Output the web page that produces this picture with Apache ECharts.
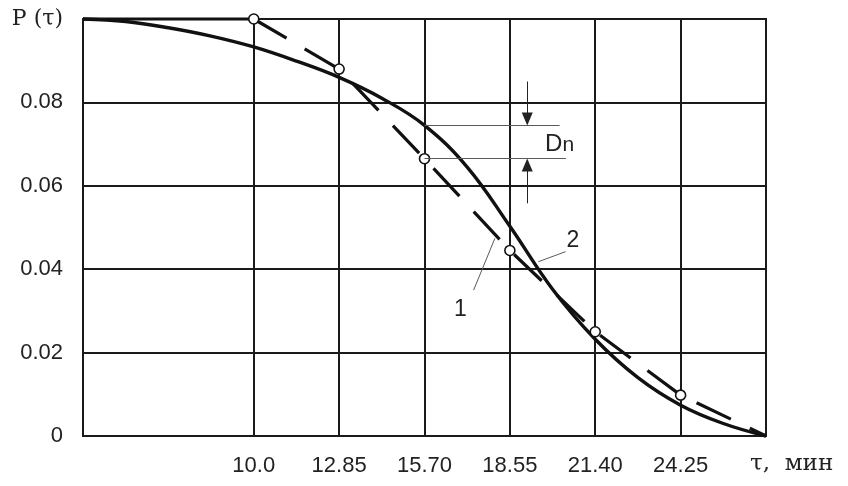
<!DOCTYPE html>
<html><head><meta charset="utf-8">
<script src="https://cdn.jsdelivr.net/npm/echarts@6/dist/echarts.min.js"></script>
<style>html,body{margin:0;padding:0;background:#fff}#c{width:848px;height:486px}</style>
</head><body><div id="c"></div>
<script>
// axis ticks
const xTicks = [10.0, 12.85, 15.70, 18.55, 21.40, 24.25];
const xTickLabels = ['10.0', '12.85', '15.70', '18.55', '21.40', '24.25'];
const yTicks = [0, 0.02, 0.04, 0.06, 0.08, 0.10];
const yTickLabels = ['0', '0.02', '0.04', '0.06', '0.08', 'P (τ)'];
const xMin = 4.30, xMax = 27.10;
const xName = 'τ,  мин';

// curve 1: empirical (dashed, circles)
const empTau = [10.0, 12.85, 15.70, 18.55, 21.40, 24.25, 27.10];
const empP   = [0.100, 0.088, 0.0665, 0.0445, 0.025, 0.0098, 0];
const empFlatTau = [4.30, 10.0];
const empFlatP   = [0.100, 0.100];

// curve 2: theoretical (solid)
const theoTau = [4.30, 5.725, 7.15, 8.575, 10.0, 11.425, 12.85, 14.275, 15.70, 17.125, 18.55, 19.975, 21.40, 22.825, 24.25, 25.675, 27.10];
const theoP   = [0.1000, 0.0994, 0.0979, 0.0959, 0.0933, 0.0899, 0.0860, 0.0810, 0.0745, 0.0645, 0.0503, 0.0352, 0.0232, 0.0140, 0.0074, 0.0030, 0];

// annotations (data coordinates)
const dnTau = 15.70, dnUpper = 0.0745, dnLower = 0.0665;

const zip = (a, b) => a.map((v, i) => [v, b[i]]);
const idx = (arr, v) => arr.findIndex(t => Math.abs(t - v) < 1e-6);

const chart = echarts.init(document.getElementById('c'), null, {renderer: 'canvas'});
const ink = '#1a1a1a';
const thin = '#5a5a5a';

chart.setOption({
  animation: false,
  backgroundColor: '#fff',
  grid: {left: 83, right: 82, top: 19, bottom: 50, show: true, borderColor: ink, borderWidth: 2, backgroundColor: 'transparent'},
  xAxis: {
    type: 'value', min: xMin, max: xMax,
    axisLine: {show: false},
    axisTick: {show: false, customValues: xTicks},
    axisLabel: {
      customValues: xTicks,
      formatter: v => { const i = idx(xTicks, v); return i >= 0 ? xTickLabels[i] : ''; },
      fontFamily: 'Liberation Sans', fontSize: 22, color: '#222', margin: 19
    },
    splitLine: {show: true, lineStyle: {color: ink, width: 2}},
    name: xName, nameLocation: 'end', nameGap: -16,
    nameTextStyle: {fontFamily: 'DejaVu Serif', fontSize: 23, color: '#222', verticalAlign: 'top', align: 'left', padding: [17, 0, 0, 0]}
  },
  yAxis: {
    type: 'value', min: 0, max: 0.10, interval: 0.02,
    axisLine: {show: false}, axisTick: {show: false},
    axisLabel: {
      formatter: v => { const i = idx(yTicks, v); if (i < 0) return ''; return i === yTicks.length - 1 ? '{p|' + yTickLabels[i] + '}' : yTickLabels[i]; },
      fontFamily: 'Liberation Sans', fontSize: 22, color: '#222', margin: 20,
      rich: {p: {fontFamily: 'DejaVu Serif', fontSize: 22, color: '#222'}}
    },
    splitLine: {show: true, lineStyle: {color: ink, width: 2}}
  },
  series: [
    {
      name: 'theory', type: 'line', data: zip(theoTau, theoP), smooth: 0.4,
      symbol: 'none', clip: false, z: 3,
      lineStyle: {color: '#111', width: 3.4}
    },
    {
      name: 'empFlat', type: 'line', data: zip(empFlatTau, empFlatP),
      symbol: 'none', clip: false, z: 3,
      lineStyle: {color: '#111', width: 3}
    },
    {
      name: 'empirical', type: 'line', clip: false, z: 4,
      data: zip(empTau, empP).map((p, i) => i === empTau.length - 1 ? {value: p, symbol: 'none'} : {value: p}),
      symbol: 'circle', symbolSize: 10, showSymbol: true,
      itemStyle: {color: '#fff', borderColor: '#111', borderWidth: 1.6},
      lineStyle: {color: '#111', width: 3.2, type: [38, 21]}
    },
    {
      name: 'annot', type: 'line', data: [], z: 5,
      markLine: {
        silent: true, animation: false, symbol: ['none', 'none'],
        label: {show: false},
        lineStyle: {color: thin, width: 1, type: 'solid'},
        data: [
          [{coord: [dnTau, dnUpper]}, {coord: [20.21, dnUpper]}],
          [{coord: [dnTau, dnLower]}, {coord: [20.42, dnLower]}],
          [{coord: [19.13, 0.085], lineStyle: {color: '#222'}}, {coord: [19.13, 0.0760], symbol: 'triangle', symbolSize: [11, 13]}],
          [{coord: [19.13, 0.0558], lineStyle: {color: '#222'}}, {coord: [19.13, 0.0650], symbol: 'triangle', symbolSize: [11, 13]}],
          [{coord: [17.34, 0.0350]}, {coord: [18.05, 0.0474]}],
          [{coord: [19.50, 0.0418]}, {coord: [20.41, 0.0442]}]
        ]
      },
      markPoint: {
        silent: true, animation: false,
        symbol: 'rect', symbolSize: 1, itemStyle: {color: 'rgba(0,0,0,0)'},
        label: {show: true, position: 'inside', color: '#222', fontFamily: 'Liberation Sans', fontSize: 23,
          formatter: p => p.name === 'Dn' ? '{d|D}{n|n}' : p.name,
          rich: {d: {fontFamily: 'Liberation Sans', fontSize: 24, color: '#222'}, n: {fontFamily: 'Liberation Sans', fontSize: 21, color: '#222', verticalAlign: 'bottom'}}
        },
        data: [
          {name: 'Dn', coord: [20.21, 0.070]},
          {name: '1', coord: [16.90, 0.0302]},
          {name: '2', coord: [20.65, 0.0468]}
        ]
      }
    }
  ]
});
</script>
</body></html>
